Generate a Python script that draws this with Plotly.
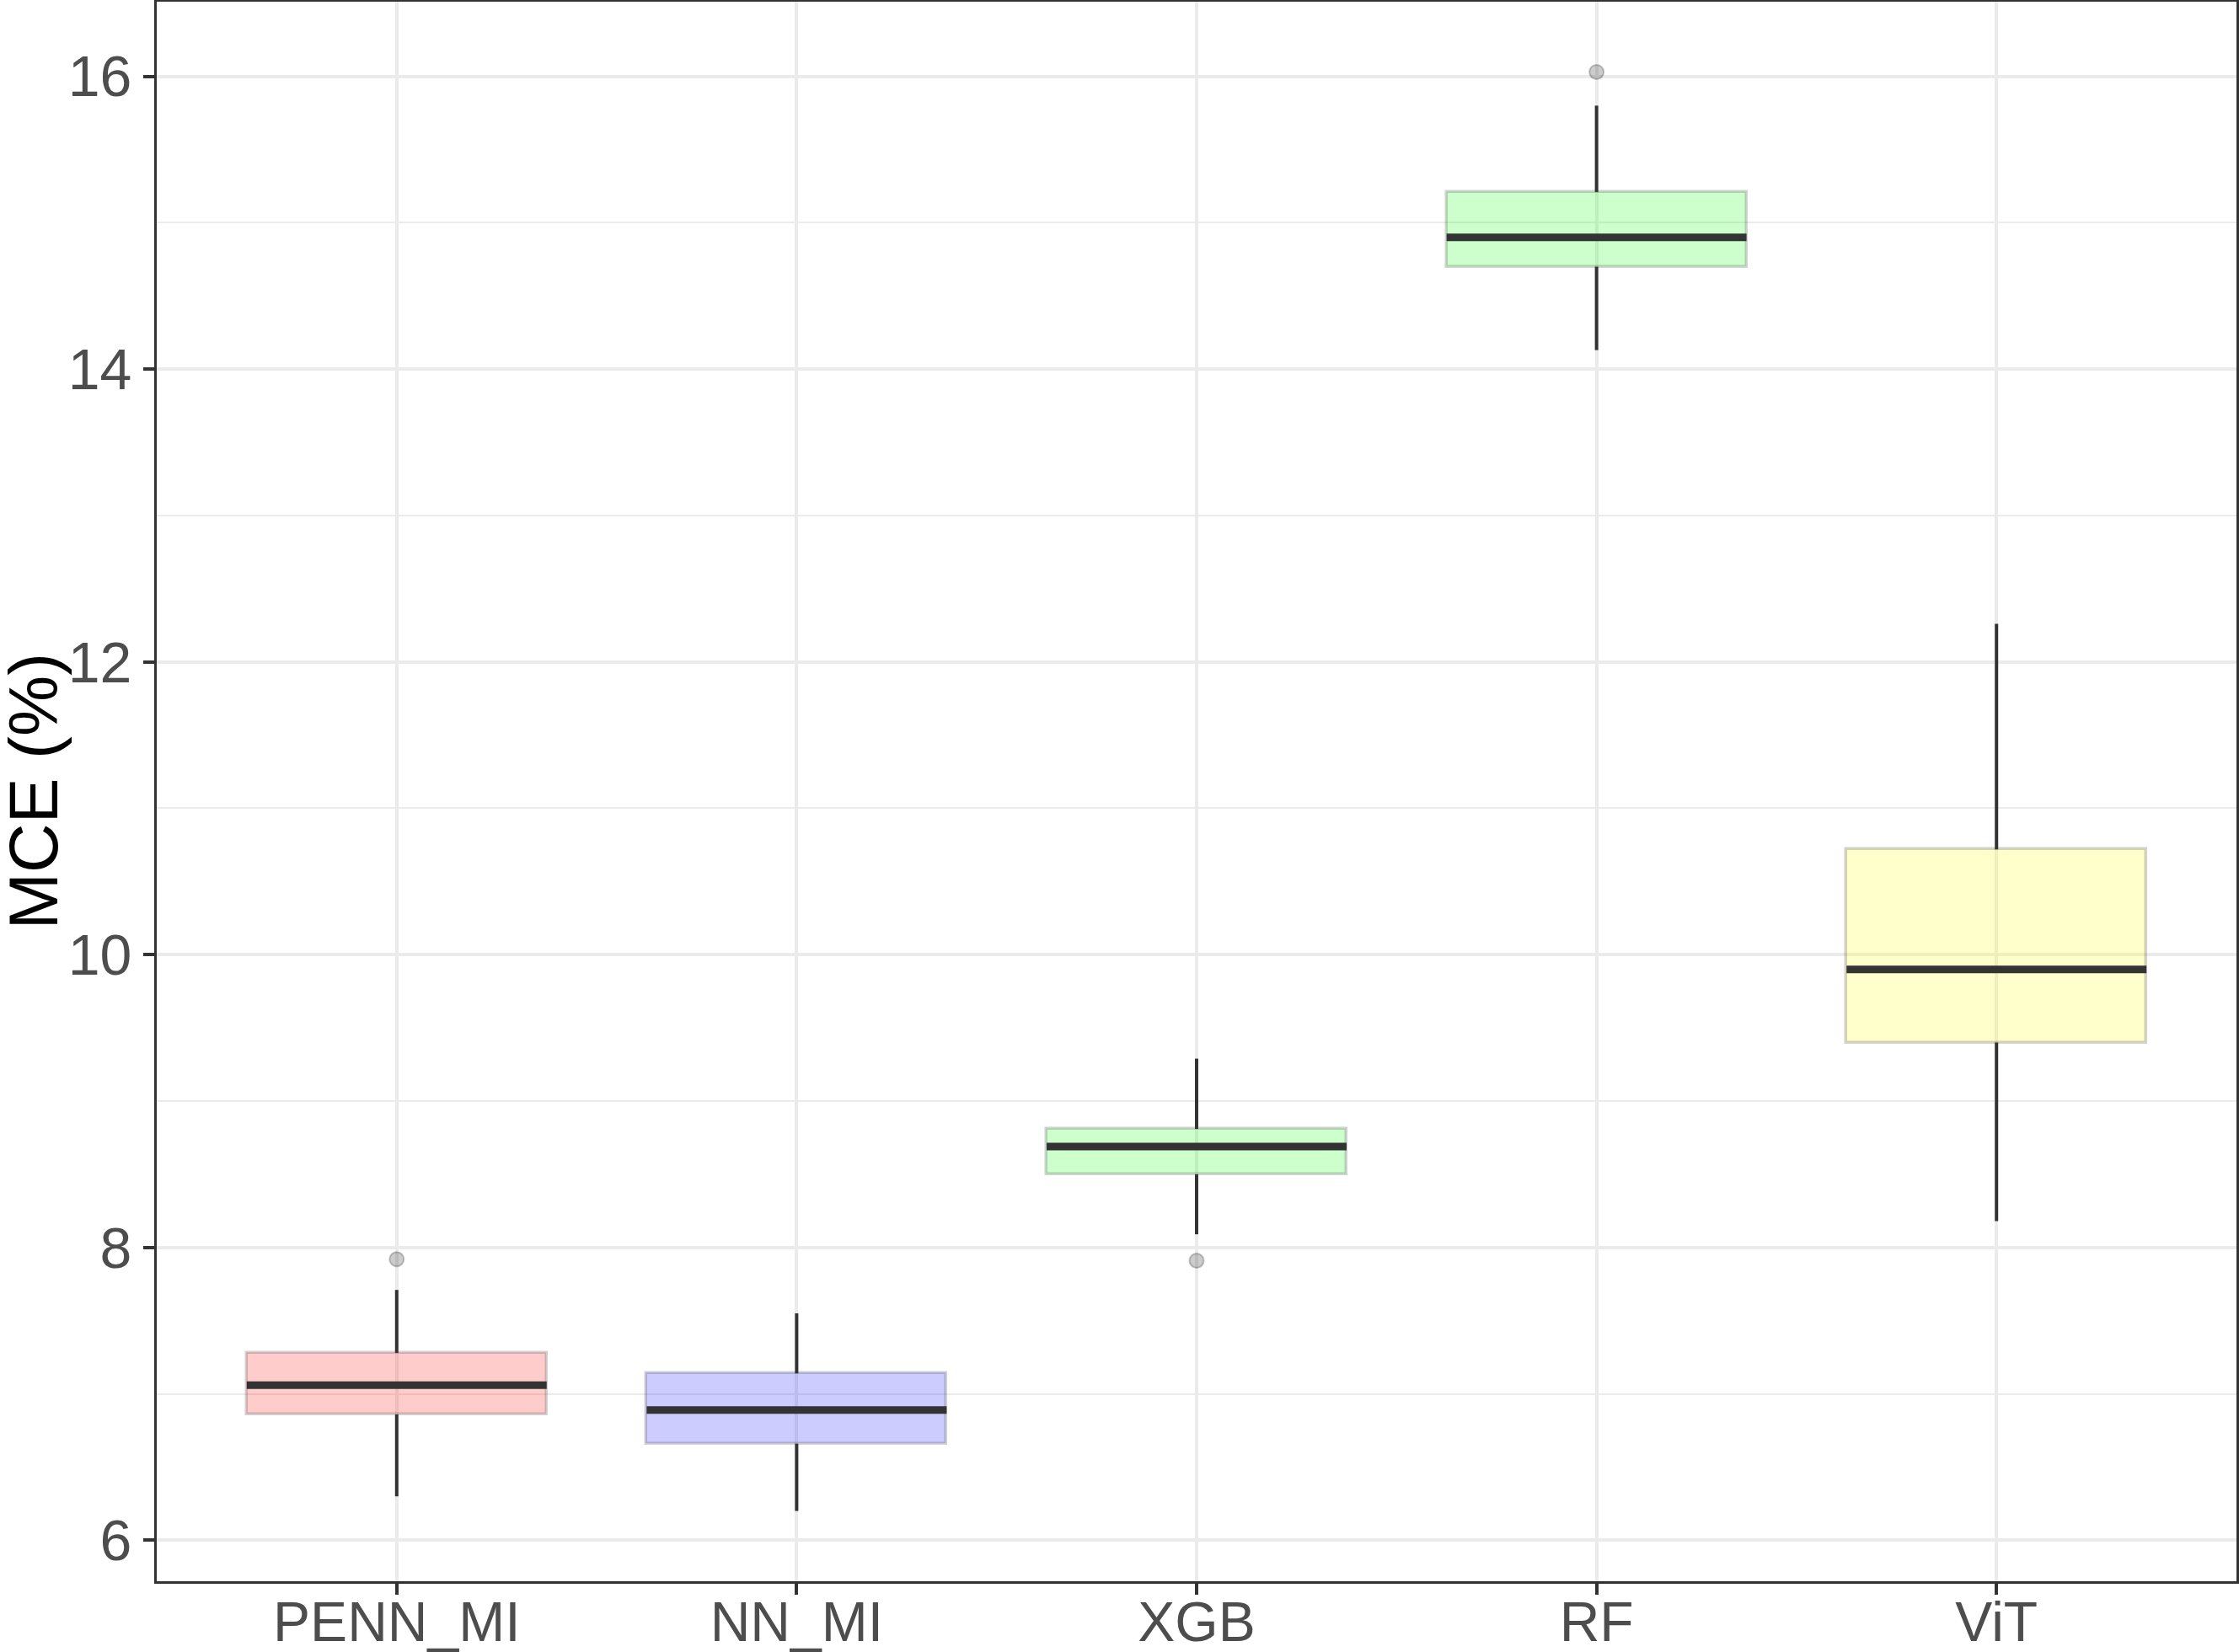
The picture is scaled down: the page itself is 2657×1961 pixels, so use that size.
import plotly.graph_objects as go

categories = ["PENN_MI", "NN_MI", "XGB", "RF", "ViT"]
lower_whisker = [6.30, 6.20, 8.09, 14.13, 8.18]
q1_vals = [6.86, 6.66, 8.50, 14.70, 9.40]
median_vals = [7.06, 6.89, 8.69, 14.90, 9.90]
q3_vals = [7.28, 7.14, 8.81, 15.21, 10.72]
upper_whisker = [7.71, 7.55, 9.29, 15.80, 12.26]
outlier_cat = ["PENN_MI", "XGB", "RF"]
outlier_vals = [7.92, 7.91, 16.03]
fill_colors = ["rgba(255,0,0,0.2)", "rgba(0,0,255,0.2)", "rgba(0,255,0,0.2)",
               "rgba(0,255,0,0.2)", "rgba(255,255,0,0.2)"]

BOX_W = 0.75
pos = list(range(1, len(categories) + 1))
cat_pos = dict(zip(categories, pos))

fig = go.Figure()

# whiskers
wx, wy = [], []
for p, lo, a, b, hi in zip(pos, lower_whisker, q1_vals, q3_vals, upper_whisker):
    wx += [p, p, None, p, p, None]
    wy += [lo, a, None, b, hi, None]
fig.add_trace(go.Scatter(x=wx, y=wy, mode="lines",
                         line=dict(color="#333333", width=4),
                         hoverinfo="skip", showlegend=False))

# boxes
fig.add_trace(go.Bar(x=pos, base=q1_vals,
                     y=[b - a for a, b in zip(q1_vals, q3_vals)],
                     width=BOX_W,
                     marker=dict(color=fill_colors,
                                 line=dict(color="rgba(51,51,51,0.22)", width=3.5)),
                     showlegend=False))

# medians
mx, my = [], []
for p, m in zip(pos, median_vals):
    mx += [p - BOX_W / 2, p + BOX_W / 2, None]
    my += [m, m, None]
fig.add_trace(go.Scatter(x=mx, y=my, mode="lines",
                         line=dict(color="#333333", width=9),
                         hoverinfo="skip", showlegend=False))

# outliers
fig.add_trace(go.Scatter(x=[cat_pos[c] for c in outlier_cat], y=outlier_vals,
                         mode="markers",
                         marker=dict(color="rgba(0,0,0,0.2)", size=17,
                                     line=dict(color="rgba(0,0,0,0.22)", width=2)),
                         showlegend=False))

fig.update_layout(
    width=2657, height=1961,
    margin=dict(l=186, r=3, t=2, b=84, autoexpand=False),
    plot_bgcolor="white", paper_bgcolor="white",
    font=dict(family="Liberation Sans, Arial, sans-serif", color="#4D4D4D"),
    bargap=0,
    showlegend=False,
    annotations=[dict(text="MCE (%)", textangle=-90, xref="paper", yref="paper",
                      x=0, y=0.5, xanchor="center", yanchor="middle",
                      xshift=-147, showarrow=False,
                      font=dict(size=81, color="black"))],
)
fig.update_xaxes(
    range=[0.4, 5.6], tickmode="array", tickvals=pos, ticktext=categories,
    tickfont=dict(size=66, color="#4D4D4D"), automargin=False,
    ticklabelstandoff=-24,
    showgrid=True, gridcolor="#EBEBEB", gridwidth=4,
    ticks="outside", ticklen=13, tickwidth=3.5, tickcolor="#333333",
    showline=True, linecolor="#333333", linewidth=3, mirror=True,
    zeroline=False,
)
fig.update_yaxes(
    range=[5.72, 16.51], tickmode="linear", tick0=0, dtick=2,
    tickfont=dict(size=68, color="#4D4D4D"), automargin=False,
    showgrid=True, gridcolor="#EBEBEB", gridwidth=4,
    minor=dict(dtick=1, tick0=0, showgrid=True, gridcolor="#EBEBEB", gridwidth=2),
    ticks="outside", ticklen=13, tickwidth=3.5, tickcolor="#333333",
    showline=True, linecolor="#333333", linewidth=3, mirror=True,
    zeroline=False,
)

fig.write_html("out.html")
